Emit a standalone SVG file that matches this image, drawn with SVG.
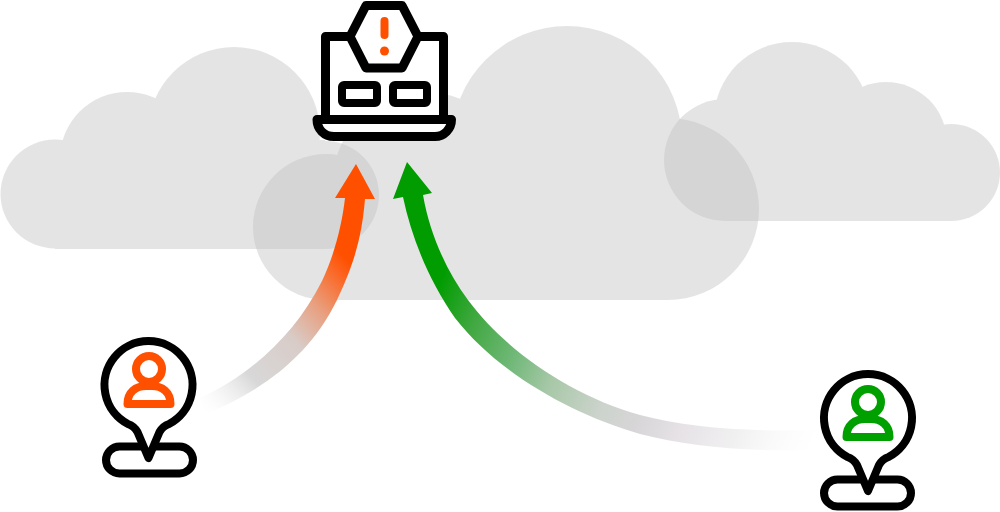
<svg xmlns="http://www.w3.org/2000/svg" width="1000" height="512" viewBox="0 0 1000 512">
  <style>
    .cloud { fill: #c1c1c1; opacity: 0.42; }
    .ink { fill: #fff; stroke: #000; stroke-width: 9; stroke-linejoin: round; stroke-linecap: round; }
    .thin { stroke-width: 8; }
    .person { fill: none; stroke-width: 8; stroke-linejoin: round; stroke-linecap: round; }
  </style>
  <defs>
    <linearGradient id="fadeOrange" gradientUnits="userSpaceOnUse" x1="352" y1="265" x2="200" y2="408">
      <stop offset="0" stop-color="#ff5000"/>
      <stop offset="0.07" stop-color="#fc6420"/>
      <stop offset="0.26" stop-color="#e8a080"/>
      <stop offset="0.45" stop-color="#d8ccc8"/>
      <stop offset="0.72" stop-color="#d8d8d8"/>
      <stop offset="1" stop-color="#f6f6f6" stop-opacity="0"/>
    </linearGradient>
    <linearGradient id="fadeGreen" gradientUnits="userSpaceOnUse" x1="440" y1="280" x2="820" y2="440">
      <stop offset="0" stop-color="#009c00"/>
      <stop offset="0.114" stop-color="#40a840"/>
      <stop offset="0.236" stop-color="#70b878"/>
      <stop offset="0.345" stop-color="#a8c8a8"/>
      <stop offset="0.48" stop-color="#ccd3cc"/>
      <stop offset="0.58" stop-color="#d8d6d8"/>
      <stop offset="0.68" stop-color="#e6e2e6"/>
      <stop offset="0.84" stop-color="#f4f4f4"/>
      <stop offset="1" stop-color="#fcfcfc" stop-opacity="0"/>
    </linearGradient>
  </defs>

  <!-- background clouds -->
  <g id="cloud-left" class="cloud">
    <circle cx="55" cy="194" r="54.500"/>
    <circle cx="127" cy="159" r="67"/>
    <circle cx="234" cy="133" r="86"/>
    <circle cx="325" cy="195" r="54"/>
    <rect x="55" y="140" width="270" height="109"/>
  </g>
  <g id="cloud-center" class="cloud">
    <circle cx="326" cy="227" r="73"/>
    <circle cx="425" cy="185" r="93"/>
    <circle cx="567" cy="141" r="115"/>
    <circle cx="668" cy="209" r="91"/>
    <rect x="326" y="200" width="342" height="100"/>
  </g>
  <g id="cloud-right" class="cloud">
    <circle cx="725" cy="160" r="61"/>
    <circle cx="792" cy="120" r="78"/>
    <circle cx="886" cy="143" r="61"/>
    <circle cx="951.500" cy="172.500" r="48.500"/>
    <rect x="725" y="150" width="227" height="71"/>
  </g>

  <!-- connectors -->
  <g id="connectors">
    <path fill="url(#fadeOrange)" d="M356 164 L375 199 L365 199 C362 235 355 262 337 300 C310 355 265 390 203 415 L200 398 C250 375 295 335 322 281 C334 256 342 225 345 198 L335 198 Z"/>
    <path fill="url(#fadeGreen)" d="M407 162 L432 193 L423 195 C430 235 447 272 468 300 C505 350 570 395 640 415 C690 428 750 432 820 430 L820 450 C750 452 690 447 640 434 C570 414 497 372 455 318 C430 282 412 240 403 197 L393 199 Z"/>
  </g>

  <!-- laptop with warning hexagon -->
  <g id="laptop">
    <path class="ink" d="M325.500 119.500 V36.500 H443.500 V119.500"/>
    <path class="ink" d="M317 119.500 H451.500 C451.500 129 444 136.500 435 136.500 H334 C324 136.500 317 129 317 119.500 Z"/>
    <path class="ink" d="M350 36.500 L366 5.500 H402 L418 36.500 L402 68 H366 Z"/>
    <rect class="ink thin" x="342" y="85" width="35" height="18" rx="2"/>
    <rect class="ink thin" x="393" y="85" width="34" height="18" rx="2"/>
    <path d="M384.500 21 V35" fill="none" stroke="#ff5000" stroke-width="8" stroke-linecap="round"/>
    <circle cx="384.500" cy="51" r="4.500" fill="#ff5000"/>
  </g>

  <!-- user marker, orange -->
  <g id="user-orange">
    <rect class="ink thin" x="106" y="446.500" width="87" height="27" rx="13.500"/>
    <path class="ink thin" d="M148.500 458 L137.500 432 Q134 426 128 424 A44 44 0 1 1 169 424 Q163 426 159.500 432 Z"/>
    <g class="person" stroke="#ff5000">
      <circle cx="149" cy="369" r="13"/>
      <path d="M127.500 404 C127.500 392 136 386 146 386 H152 C162 386 170.500 392 170.500 404 Z"/>
    </g>
  </g>

  <!-- user marker, green -->
  <g id="user-green">
    <rect class="ink thin" x="824" y="479.500" width="87" height="27" rx="13.500"/>
    <path class="ink thin" d="M868 491 L857 465 Q853.500 459 847.500 457 A44 44 0 1 1 888.500 457 Q882.500 459 879 465 Z"/>
    <g class="person" stroke="#00a000">
      <circle cx="868" cy="402" r="13"/>
      <path d="M846.500 437 C846.500 425 855 419 865 419 H871 C881 419 889.500 425 889.500 437 Z"/>
    </g>
  </g>
</svg>
